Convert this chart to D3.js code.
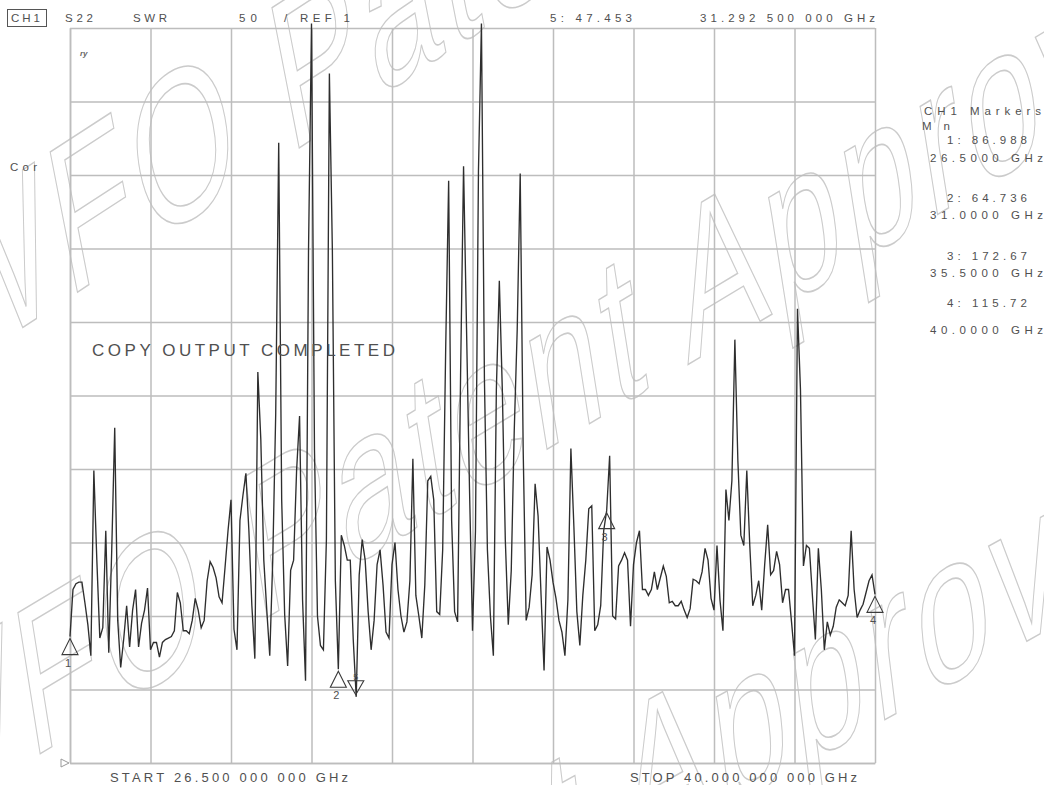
<!DOCTYPE html>
<html>
<head>
<meta charset="utf-8">
<script src="https://cdn.jsdelivr.net/npm/d3@7"></script>
<style>
  html, body { margin: 0; padding: 0; background: #ffffff; }
  svg { display: block; }
</style>
</head>
<body>
<svg id="chart" width="1044" height="785"></svg>
<script>
// ---------------- DATA ----------------
const START_GHZ = 26.5;
const STOP_GHZ = 40.0;
const SCALE_PER_DIV = 50;
const REF_VALUE = 1;

// S22 SWR trace, equally spaced sweep points from START to STOP
const swr = [
  86.988, 119, 123, 124, 124, 110, 95, 74, 200, 139,
  86, 93, 159, 76, 146, 229, 98, 66, 85, 108,
  80, 105, 119, 80, 96, 105, 120, 78, 83, 83,
  73, 83, 85, 86, 87, 91, 117, 110, 91, 91,
  89, 98, 113, 105, 93, 98, 125, 138, 134, 127,
  114, 110, 134, 159, 180, 92, 78, 166, 183, 198,
  159, 108, 72, 267, 221, 139, 105, 74, 139, 239,
  423, 180, 102, 67, 132, 139, 200, 237, 112, 57,
  350, 504, 214, 101, 81, 78, 153, 470, 350, 125,
  64.736, 156, 149, 139, 139, 85, 46, 129, 153, 139,
  104, 78, 98, 136, 146, 122, 90, 86, 136, 151,
  119, 101, 90, 97, 125, 208, 115, 101, 86, 122,
  193, 196, 180, 104, 102, 146, 282, 397, 166, 104,
  97, 265, 407, 296, 187, 91, 159, 404, 504, 262,
  146, 101, 74, 255, 329, 255, 153, 95, 132, 227,
  296, 402, 214, 98, 107, 129, 191, 169, 115, 64,
  148, 139, 124, 113, 98, 90, 74, 112, 215, 162,
  104, 81, 115, 139, 174, 176, 91, 95, 108, 159,
  172.67, 210, 101, 99, 135, 139, 144, 139, 94, 136,
  151, 159, 119, 119, 115, 119, 131, 119, 127, 135,
  128, 110, 111, 108, 108, 111, 105, 100, 106, 126,
  125, 123, 131, 147, 139, 113, 105, 149, 112, 91,
  187, 166, 193, 289, 207, 156, 149, 200, 149, 108,
  115, 125, 105, 136, 163, 129, 132, 145, 136, 110,
  119, 119, 97, 74, 310, 255, 135, 149, 147, 115,
  85, 147, 119, 78, 97, 88, 94, 107, 112, 110,
  108, 115, 159, 119, 100, 105, 109, 117, 125, 129,
  115.72
];

// Markers
const markerIds   = ["1", "2", "3", "4", "5"];
const markerFreqs = [26.5, 31.0, 35.5, 40.0, 31.2925];
const markerVals  = [86.988, 64.736, 172.67, 115.72, 47.453];
const activeMarker = "5";

// Annotation texts
const headerTexts = ["S22", "SWR", "50", "/", "REF 1", "5: 47.453", "31.292 500 000 GHz"];
const startLabel = "START 26.500 000 000 GHz";
const stopLabel  = "STOP 40.000 000 000 GHz";
const copyMessage = "COPY OUTPUT COMPLETED";
const watermarkLines = ["WFO Patent", "WFO Patent Approval", "Patent Approval"];

// ---------------- DRAW ----------------
const svg = d3.select("#chart");
const W = 1044, H = 785;
const plot = { left: 70, right: 875, top: 28, bottom: 763 };
const TEXT = "#505050";
const FONT = "'Liberation Sans', Arial, sans-serif";

const x = d3.scaleLinear().domain([START_GHZ, STOP_GHZ]).range([plot.left, plot.right]);
const y = d3.scaleLinear().domain([REF_VALUE, REF_VALUE + SCALE_PER_DIV * 10]).range([plot.bottom, plot.top]);

svg.append("rect").attr("width", W).attr("height", H).attr("fill", "#fff");

// watermark (outlined, slanted text)
const wm = svg.append("g")
  .attr("fill", "none").attr("stroke", "#cbcbcb").attr("stroke-width", 1.1)
  .attr("font-family", FONT).attr("font-size", 148).attr("letter-spacing", 6);
const wmPlace = [
  "translate(-55,378) rotate(-33) skewX(-22) scale(1,1.3)",
  "translate(-95,835) rotate(-31) skewX(-22) scale(1,1.3)",
  "translate(190,1105) rotate(-29) skewX(-22) scale(1,1.3)"
];
watermarkLines.forEach((s, i) => {
  wm.append("text").attr("transform", wmPlace[i]).text(s);
});

// grid via axes
const xTicks = d3.range(11).map(i => START_GHZ + i * (STOP_GHZ - START_GHZ) / 10);
const yTicks = d3.range(11).map(i => REF_VALUE + i * SCALE_PER_DIV);

const gx = svg.append("g")
  .attr("transform", `translate(0,${plot.bottom})`)
  .call(d3.axisBottom(x).tickValues(xTicks).tickSize(-(plot.bottom - plot.top)).tickSizeOuter(0).tickFormat(""));
const gy = svg.append("g")
  .attr("transform", `translate(${plot.left},0)`)
  .call(d3.axisLeft(y).tickValues(yTicks).tickSize(-(plot.right - plot.left)).tickSizeOuter(0).tickFormat(""));
[gx, gy].forEach(g => {
  g.select(".domain").attr("stroke", "#bdbdbd").attr("stroke-width", 1.5);
  g.selectAll(".tick line").attr("stroke", "#bdbdbd").attr("stroke-width", 1.5);
});

// reference position marker at left
svg.append("path")
  .attr("d", `M${plot.left - 9},${y(REF_VALUE) - 4}L${plot.left - 1},${y(REF_VALUE)}L${plot.left - 9},${y(REF_VALUE) + 4}Z`)
  .attr("fill", "none").attr("stroke", "#9a9a9a").attr("stroke-width", 1);

// trace
const traceData = swr.map((v, i) => ({
  f: START_GHZ + i * (STOP_GHZ - START_GHZ) / (swr.length - 1),
  v
}));
svg.append("path")
  .datum(traceData)
  .attr("fill", "none")
  .attr("stroke", "#2e2e2e")
  .attr("stroke-width", 1.35)
  .attr("stroke-linejoin", "miter")
  .attr("d", d3.line().x(d => x(d.f)).y(d => y(d.v)));

// markers
const mg = svg.append("g").attr("fill", "none").attr("stroke", "#3a3a3a").attr("stroke-width", 1.1);
markerIds.forEach((id, i) => {
  const px = x(markerFreqs[i]), py = y(markerVals[i]);
  if (id === activeMarker) {
    mg.append("path").attr("d", `M${px},${py}L${px - 8},${py - 14}L${px + 8},${py - 14}Z`);
    svg.append("text").attr("x", px).attr("y", py - 15).attr("text-anchor", "middle")
      .attr("font-family", FONT).attr("font-size", 9).attr("fill", TEXT).text(id);
  } else {
    mg.append("path").attr("d", `M${px},${py + 2}L${px - 8},${py + 18}L${px + 8},${py + 18}Z`);
    svg.append("text").attr("x", px - 2).attr("y", py + 30).attr("text-anchor", "middle")
      .attr("font-family", FONT).attr("font-size", 11).attr("fill", TEXT).text(id);
  }
});

// text helper
function label(str, xx, yy, size, width) {
  const t = svg.append("text").attr("x", xx).attr("y", yy)
    .attr("font-family", FONT).attr("font-size", size).attr("fill", TEXT).text(str);
  if (width) t.attr("textLength", width).attr("lengthAdjust", "spacing");
  return t;
}

// header
svg.append("rect").attr("x", 7.5).attr("y", 9.5).attr("width", 39).attr("height", 17)
  .attr("fill", "none").attr("stroke", "#555").attr("stroke-width", 1);
label("CH1", 11, 22, 11.5, 29);
const headerPos = [[65, 28], [133, 34], [239, 18], [284, null], [300, 50], [550, 82], [700, 175]];
headerTexts.forEach((s, i) => label(s, headerPos[i][0], 22, 11.5, headerPos[i][1]));

label("Cor", 10, 171, 11.5, 27);
svg.append("text").attr("x", 80).attr("y", 56).attr("font-family", FONT)
  .attr("font-size", 8).attr("font-style", "italic").attr("font-weight", "bold")
  .attr("fill", "#666").text("ry");

label(copyMessage, 92, 356, 17, 303);
label(startLabel, 110, 782, 13, 238);
label(stopLabel, 630, 782, 13, 227);

// marker readout panel
label("CH1 Markers", 924, 115, 11.5, 117);
label("M n", 922, 129.5, 11.5, 28);
const fmtVal = d3.format(".5r");
const fmtF = d3.format(".4f");
const readY = [[144, 162], [202, 219], [260, 276.5], [306.5, 334]];
markerIds.slice(0, 4).forEach((id, i) => {
  label(`${id}: ${fmtVal(markerVals[i])}`, 947, readY[i][0], 11.5, 80);
  label(`${fmtF(markerFreqs[i])} GHz`, 930, readY[i][1], 11.5, 113);
});
</script>
</body>
</html>
